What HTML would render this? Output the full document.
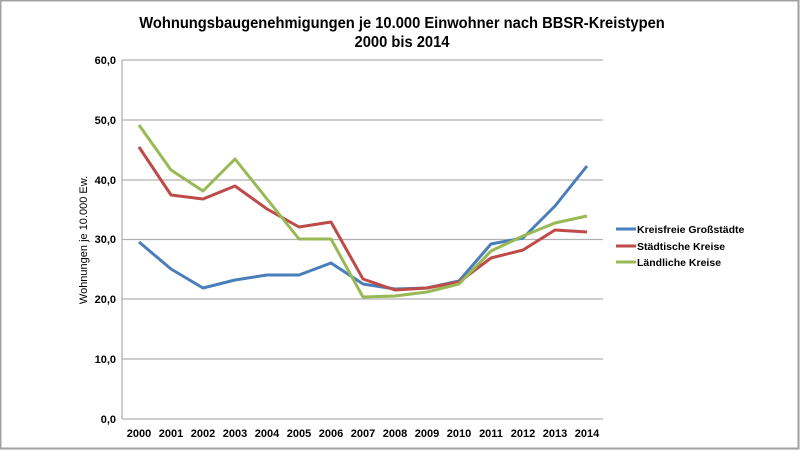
<!DOCTYPE html>
<html><head><meta charset="utf-8"><style>
html,body{margin:0;padding:0;background:#fff}
svg{display:block}
text{font-family:"Liberation Sans",Arial,sans-serif;font-weight:bold;fill:#000}
</style></head><body>
<svg width="800" height="450" viewBox="0 0 800 450" xmlns="http://www.w3.org/2000/svg">
<rect x="0.5" y="0.5" width="798" height="448" fill="#fff" stroke="#a0a0a0" stroke-width="2"/>
<text x="402" y="28" font-size="15.5" text-anchor="middle" transform="translate(402,0) scale(0.95,1) translate(-402,0)">Wohnungsbaugenehmigungen je 10.000 Einwohner  nach BBSR-Kreistypen</text>
<text x="402" y="47" font-size="15.5" text-anchor="middle" transform="translate(402,0) scale(0.95,1) translate(-402,0)">2000 bis 2014</text>
<g stroke="#b0b0b0" stroke-width="1.3">
<line x1="122" y1="60" x2="603" y2="60"/>
<line x1="122" y1="120" x2="603" y2="120"/>
<line x1="122" y1="180" x2="603" y2="180"/>
<line x1="122" y1="239.5" x2="603" y2="239.5"/>
<line x1="122" y1="299" x2="603" y2="299"/>
<line x1="122" y1="359" x2="603" y2="359"/>
<line x1="122" y1="419" x2="603" y2="419"/>
<line x1="122" y1="60" x2="122" y2="419"/>
</g>
<g font-size="11" text-anchor="end">
<text x="116" y="64">60,0</text><text x="116" y="124">50,0</text><text x="116" y="184">40,0</text>
<text x="116" y="243">30,0</text><text x="116" y="303">20,0</text><text x="116" y="363">10,0</text><text x="116" y="423">0,0</text>
</g>
<g font-size="11" text-anchor="middle">
<text x="139" y="437">2000</text><text x="171" y="437">2001</text><text x="203" y="437">2002</text><text x="235" y="437">2003</text><text x="267" y="437">2004</text><text x="299" y="437">2005</text><text x="331" y="437">2006</text><text x="363" y="437">2007</text><text x="395" y="437">2008</text><text x="427" y="437">2009</text><text x="459" y="437">2010</text><text x="491" y="437">2011</text><text x="523" y="437">2012</text><text x="555" y="437">2013</text><text x="587" y="437">2014</text>
</g>
<text transform="translate(87,240) rotate(-90)" font-size="11" text-anchor="middle" style="font-weight:normal">Wohnungen je 10.000 Ew.</text>
<g fill="none" stroke-width="3" stroke-linejoin="round">
<polyline stroke="#4a7ebb" points="139,242 171,269 203,288 235,280 267,275 299,275 331,263 363,284 395,289 427,288 459,281 491,244 523,238 555,206 587,166"/>
<polyline stroke="#be4b48" points="139,147 171,195 203,199 235,186 267,209 299,227 331,222 363,279 395,290 427,288 459,282 491,258 523,250 555,230 587,232"/>
<polyline stroke="#98b954" points="139,125 171,170 203,191 235,159 267,199 299,239 331,239 363,297 395,296 427,292 459,284 491,251 523,236 555,223 587,216"/>
</g>
<g stroke-width="3">
<line x1="616" y1="229" x2="636" y2="229" stroke="#4a7ebb"/>
<line x1="616" y1="246" x2="636" y2="246" stroke="#be4b48"/>
<line x1="616" y1="262" x2="636" y2="262" stroke="#98b954"/>
</g>
<g font-size="10.5" style="font-weight:normal">
<text x="637" y="233">Kreisfreie Großstädte</text>
<text x="637" y="250">Städtische Kreise</text>
<text x="637" y="266">Ländliche Kreise</text>
</g>
</svg>
</body></html>
